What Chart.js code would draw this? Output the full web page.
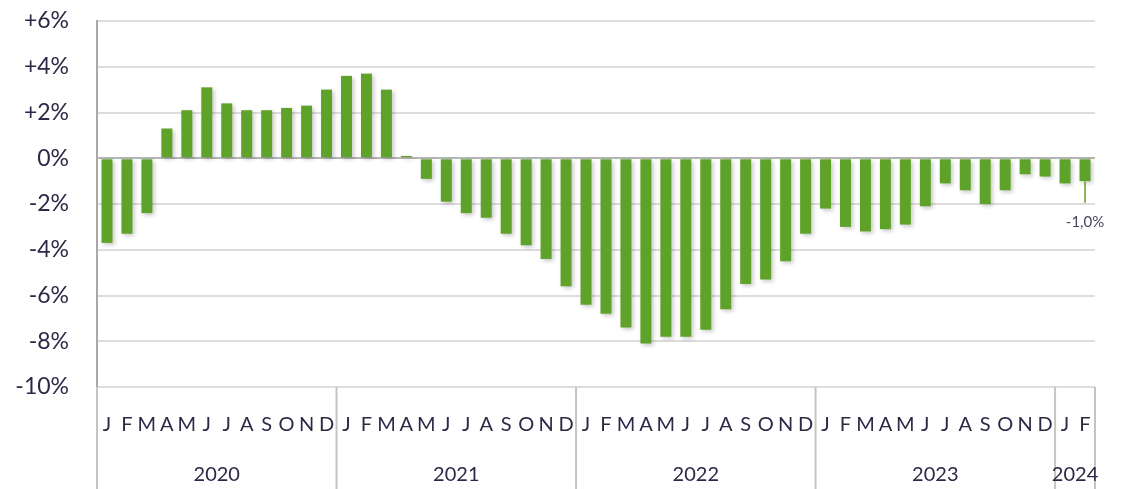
<!DOCTYPE html>
<html>
<head>
<meta charset="utf-8">
<script src="https://cdn.jsdelivr.net/npm/chart.js@4"></script>
<style>
  html, body { margin: 0; padding: 0; background: #fff; }
  #wrap { width: 1124px; height: 489px; }
</style>
</head>
<body>
<div id="wrap"><canvas id="chart" width="1124" height="489"></canvas></div>
<script>
    // ======= data =======
    const monthLetters = ['J', 'F', 'M', 'A', 'M', 'J', 'J', 'A', 'S', 'O', 'N', 'D'];
    const years = ['2020', '2021', '2022', '2023', '2024'];
    const monthsPerYear = [12, 12, 12, 12, 2];

    const values2020 = [-3.7, -3.3, -2.4, 1.3, 2.1, 3.1, 2.4, 2.1, 2.1, 2.2, 2.3, 3.0];
    const values2021 = [3.6, 3.7, 3.0, 0.1, -0.9, -1.9, -2.4, -2.6, -3.3, -3.8, -4.4, -5.6];
    const values2022 = [-6.4, -6.8, -7.4, -8.1, -7.8, -7.8, -7.5, -6.6, -5.5, -5.3, -4.5, -3.3];
    const values2023 = [-2.2, -3.0, -3.2, -3.1, -2.9, -2.1, -1.1, -1.4, -2.0, -1.4, -0.7, -0.8];
    const values2024 = [-1.1, -1.0];

    const yTicks = [-10, -8, -6, -4, -2, 0, 2, 4, 6];
    const lastLabel = '-1,0%';

    // ======= build labels / series =======
    const labels = [];
    monthsPerYear.forEach(n => { for (let i = 0; i < n; i++) labels.push(monthLetters[i]); });
    const values = [].concat(values2020, values2021, values2022, values2023, values2024);

    const textColor = '#2d2846';
    const fontFamily = 'Lato, "Open Sans", sans-serif';

    // bar shadow
    const shadowPlugin = {
      id: 'shadow',
      beforeDatasetDraw(chart) {
        const ctx = chart.ctx;
        ctx.save();
        ctx.shadowColor = 'rgba(0,0,0,0.22)';
        ctx.shadowBlur = 4;
        ctx.shadowOffsetX = 2;
        ctx.shadowOffsetY = 2;
      },
      afterDatasetDraw(chart) { chart.ctx.restore(); }
    };

    // year separators, year labels, last-value callout
    const yearPlugin = {
      id: 'years',
      afterDraw(chart) {
        const ctx = chart.ctx;
        const x = chart.scales.x, y = chart.scales.y;
        const area = chart.chartArea;
        const step = x.getPixelForValue(1) - x.getPixelForValue(0);
        const bottom = chart.height;
        ctx.save();
        ctx.strokeStyle = '#c4c4c4';
        ctx.lineWidth = 2;
        let start = 0;
        const edges = [area.left];
        monthsPerYear.forEach(n => { start += n; edges.push(x.getPixelForValue(start - 1) + step / 2); });
        edges[edges.length - 1] = area.right;
        edges.forEach(px => {
          ctx.beginPath();
          ctx.moveTo(px, area.bottom);
          ctx.lineTo(px, bottom);
          ctx.stroke();
        });
        ctx.fillStyle = textColor;
        ctx.font = '20px ' + fontFamily;
        ctx.textAlign = 'center';
        ctx.textBaseline = 'middle';
        years.forEach((yr, i) => {
          ctx.fillText(yr, (edges[i] + edges[i + 1]) / 2, 475);
        });

        // callout for last bar
        const li = values.length - 1;
        const cx = x.getPixelForValue(li);
        ctx.strokeStyle = '#5fa22a';
        ctx.lineWidth = 1.5;
        ctx.beginPath();
        ctx.moveTo(cx, y.getPixelForValue(values[li]));
        ctx.lineTo(cx, y.getPixelForValue(-1.95));
        ctx.stroke();
        ctx.fillStyle = '#4a4560';
        ctx.font = '15px ' + fontFamily;
        ctx.fillText(lastLabel, cx, y.getPixelForValue(-2.78));
        ctx.restore();
      }
    };

    new Chart(document.getElementById('chart'), {
      type: 'bar',
      data: {
        labels: labels,
        datasets: [{
          data: values,
          backgroundColor: '#5fa22a',
          borderWidth: 0,
          barPercentage: 0.55,
          categoryPercentage: 1.0
        }]
      },
      options: {
        responsive: false,
        animation: false,
        layout: { padding: { top: 21, right: 29, left: 0, bottom: 0 } },
        plugins: {
          legend: { display: false },
          tooltip: { enabled: false }
        },
        scales: {
          x: {
            grid: { display: false, drawTicks: false },
            border: { display: false },
            ticks: {
              color: textColor,
              font: { family: fontFamily, size: 20 },
              maxRotation: 0,
              autoSkip: false,
              padding: 26
            },
            afterFit(s) { s.height = 102; s.paddingLeft = 0; s.paddingRight = 0; }
          },
          y: {
            min: -10,
            max: 6,
            afterBuildTicks(s) { s.ticks = yTicks.map(v => ({ value: v })); },
            grid: {
              drawTicks: false,
              color: c => c.tick && c.tick.value === 0 ? '#b5b5b5' : '#dddddd',
              lineWidth: 2
            },
            border: { color: '#a8a8a8', width: 2 },
            ticks: {
              color: textColor,
              font: { family: fontFamily, size: 23 },
              padding: 28,
              callback: v => (v > 0 ? '+' : '') + v + '%'
            },
            afterFit(s) { s.width = 97; s.paddingTop = 0; s.paddingBottom = 0; }
          }
        }
      },
      plugins: [shadowPlugin, yearPlugin]
    });
</script>
</body>
</html>
